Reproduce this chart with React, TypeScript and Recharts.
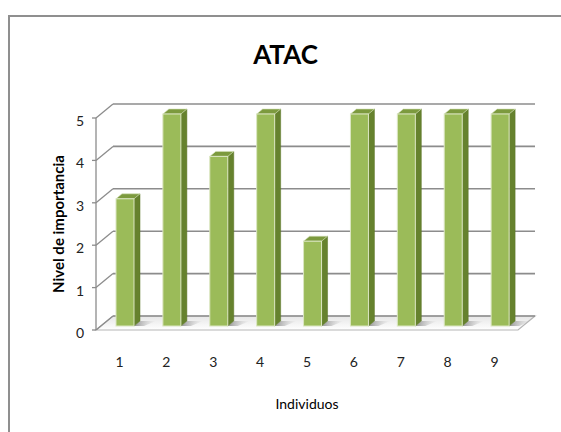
import React from 'react';
import { BarChart, Bar, XAxis, YAxis, CartesianGrid } from 'recharts';

const individuos = ['1', '2', '3', '4', '5', '6', '7', '8', '9'];
const importancia = [3, 5, 4, 5, 2, 5, 5, 5, 5];
const yTicks = [0, 1, 2, 3, 4, 5];

const data = individuos.map((name, i) => ({ name, valor: importancia[i] }));

const W = 561;
const H = 432;
const MARGIN = { top: 118, right: 43, bottom: 62, left: 66 };
const FLOOR_Y = H - MARGIN.bottom - 40; // bottom of plot area (x axis height 40)

// depth of the back wall relative to the front plane
const DX = 17;
const DY = -14;
// bars sit a little behind the front plane
const BAR_DX = 6;
const BAR_DY = -4;
// bar thickness
const SD_X = 6;
const SD_Y = -5;

const GRID = '#8c8c8c';
const FONT = 'Lato, "Open Sans", sans-serif';

const gridLine = (p: any) => {
  const { x1, x2, y1, index } = p;
  const isFloor = Math.abs(y1 - FLOOR_Y) < 1;
  return (
    <g key={`grid-${index}-${y1}`}>
      {isFloor && (
        <>
          <defs>
            <linearGradient id="floorFill" x1="0" y1="0" x2="0" y2="1">
              <stop offset="0%" stopColor="#e6e6e6" />
              <stop offset="100%" stopColor="#ffffff" />
            </linearGradient>
            <linearGradient id="barShadow" x1="0" y1="0" x2="1" y2="0">
              <stop offset="0%" stopColor="#7a7a7a" stopOpacity={0.8} />
              <stop offset="100%" stopColor="#bdbdbd" stopOpacity={0} />
            </linearGradient>
          </defs>
          <polygon
            points={`${x1},${y1} ${x2},${y1} ${x2 + DX},${y1 + DY} ${x1 + DX},${y1 + DY}`}
            fill="url(#floorFill)"
            stroke="#b5b5b5"
            strokeWidth={1.2}
          />
        </>
      )}
      <line x1={x1} y1={y1} x2={x1 + DX} y2={y1 + DY} stroke={GRID} strokeWidth={1.3} />
      <line x1={x1 + DX} y1={y1 + DY} x2={x2 + DX} y2={y1 + DY} stroke={GRID} strokeWidth={1.6} />
    </g>
  );
};

const Bar3D = (props: any) => {
  const { x, y, width, height } = props;
  const fx = x + BAR_DX;
  const fy = y + BAR_DY;
  const w = width;
  const bottom = fy + height;
  return (
    <g>
      <polygon
        points={`${fx + w},${bottom} ${fx + w + SD_X},${bottom + SD_Y} ${fx + w + SD_X + 16},${bottom + SD_Y} ${fx + w + 10},${bottom}`}
        fill="url(#barShadow)"
      />
      <polygon
        points={`${fx + w},${fy} ${fx + w + SD_X},${fy + SD_Y} ${fx + w + SD_X},${bottom + SD_Y} ${fx + w},${bottom}`}
        fill="#66822e"
        stroke="#5a7427"
        strokeWidth={0.5}
      />
      <polygon
        points={`${fx},${fy} ${fx + SD_X},${fy + SD_Y} ${fx + w + SD_X},${fy + SD_Y} ${fx + w},${fy}`}
        fill="#7c9a3e"
        stroke="#d4e0b8"
        strokeWidth={0.6}
      />
      <rect x={fx} y={fy} width={w} height={height} fill="#9bbb59" stroke="#dbe6c2" strokeWidth={1} />
    </g>
  );
};

const XTick = (props: any) => {
  const { x, y, payload } = props;
  return (
    <text x={x} y={y + 29} textAnchor="middle" fontFamily={FONT} fontSize={14} fill="#222">
      {payload.value}
    </text>
  );
};

const YTick = (props: any) => {
  const { x, y, payload } = props;
  return (
    <text x={x - 6} y={y + 8} textAnchor="end" fontFamily={FONT} fontSize={14} fill="#222">
      {payload.value}
    </text>
  );
};

export default function App() {
  return (
    <div style={{ position: 'absolute', left: 0, top: 0, width: W, height: H, overflow: 'hidden', background: '#fff' }}>
      <div
        style={{
          position: 'absolute',
          left: 8,
          top: 15,
          width: 700,
          height: 600,
          borderLeft: '2px solid #8f8f8f',
          borderTop: '2px solid #8f8f8f',
        }}
      />
      <div
        style={{
          position: 'absolute',
          left: 0,
          width: W,
          top: 38,
          textAlign: 'center',
          paddingLeft: 5,
          fontFamily: FONT,
          fontWeight: 700,
          fontSize: 26,
          color: '#000',
        }}
      >
        ATAC
      </div>
      <div
        style={{
          position: 'absolute',
          left: 58,
          top: 224,
          transform: 'translate(-50%, -50%) rotate(-90deg)',
          whiteSpace: 'nowrap',
          fontFamily: FONT,
          fontWeight: 700,
          fontSize: 15,
          color: '#000',
        }}
      >
        Nivel de importancia
      </div>
      <div
        style={{
          position: 'absolute',
          left: 307,
          top: 403,
          transform: 'translate(-50%, -50%)',
          whiteSpace: 'nowrap',
          fontFamily: FONT,
          fontSize: 14,
          color: '#000',
        }}
      >
        Individuos
      </div>
      <div style={{ position: 'absolute', left: 0, top: 0 }}>
        <BarChart width={W} height={H} data={data} margin={MARGIN}>
          <CartesianGrid vertical={false} horizontal={gridLine} />
          <XAxis dataKey="name" height={40} axisLine={false} tickLine={false} tick={<XTick />} interval={0} />
          <YAxis
            width={30}
            domain={[0, 5]}
            ticks={yTicks}
            interval={0}
            tickSize={4}
            axisLine={{ stroke: GRID, strokeWidth: 1.3 }}
            tickLine={{ stroke: GRID, strokeWidth: 1.3 }}
            tick={<YTick />}
          />
          <Bar dataKey="valor" barSize={18} shape={<Bar3D />} isAnimationActive={false} />
        </BarChart>
      </div>
    </div>
  );
}
